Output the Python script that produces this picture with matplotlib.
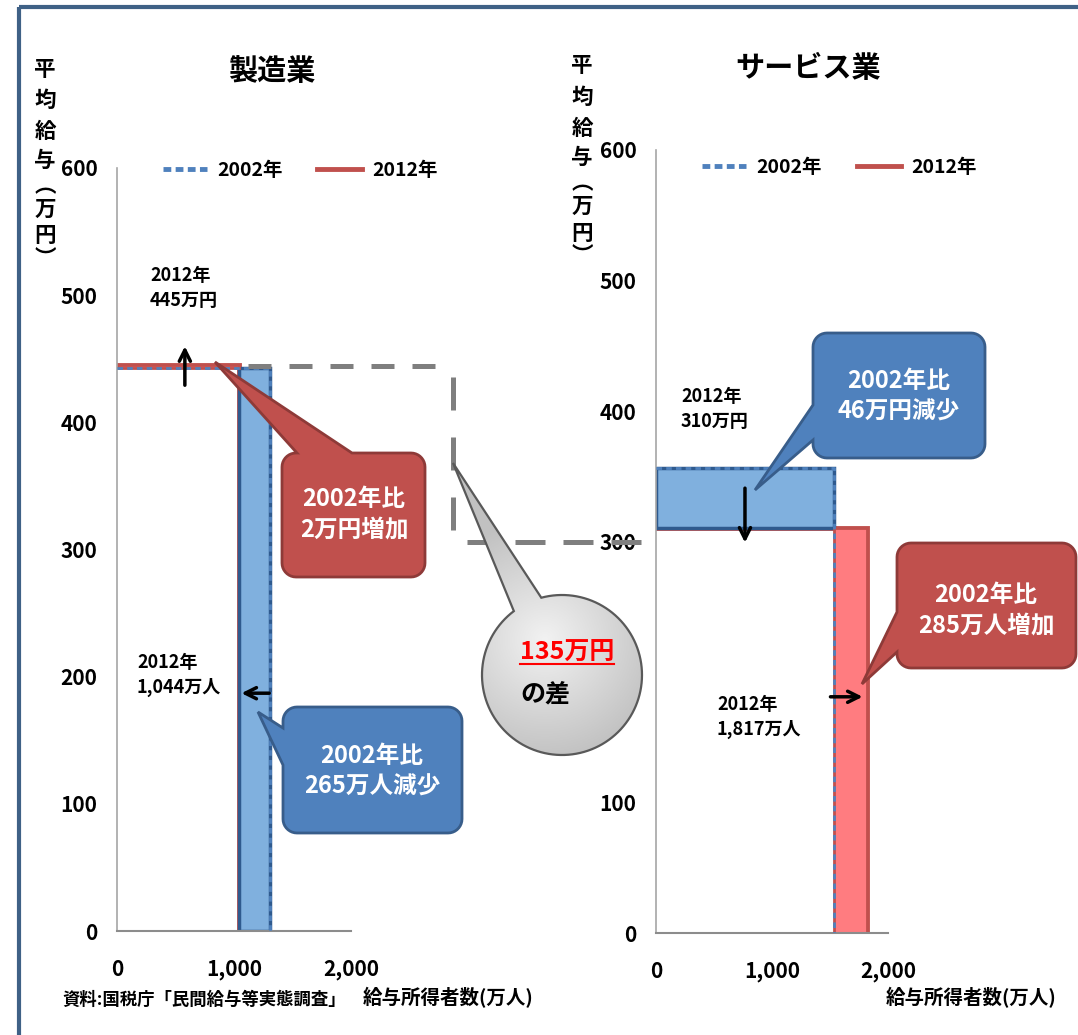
import numpy as np
import matplotlib.pyplot as plt
from matplotlib.patches import Rectangle, Polygon
from matplotlib.lines import Line2D

plt.rcParams['font.family'] = ['Noto Sans CJK JP', 'DejaVu Sans']
plt.rcParams['font.weight'] = 'bold'

W, H = 1078, 1035

# 業種別: 平均給与(万円) と 給与所得者数(万人)
industries   = ["製造業", "サービス業"]
wage_2002    = [443, 356]
wage_2012    = [445, 310]
workers_2002 = [1309, 1532]
workers_2012 = [1044, 1817]
x_ticks = [0, 1000, 2000]
y_ticks = [0, 100, 200, 300, 400, 500, 600]

BLUE      = "#4F81BD"
BLUE_FILL = "#80B0DE"
BLUE_EDGE = "#2F5A8E"
RED       = "#C0504D"
RED_EDGE  = "#8E3A38"
PINK      = "#FF7C80"
GRAY      = "#7F7F7F"

fig = plt.figure(figsize=(W / 100, H / 100), dpi=100)
fig.patch.set_facecolor("white")


def px_axes(l, t, r, b, **kw):
    return fig.add_axes([l / W, 1 - b / H, (r - l) / W, (b - t) / H], **kw)


axes = [px_axes(117, 168, 351, 931), px_axes(656, 150, 888, 933)]
legend_pos = [(0.782, 0.997), (0.789, 0.978)]

for i, ax in enumerate(axes):
    n02, n12 = workers_2002[i], workers_2012[i]
    v02, v12 = wage_2002[i], wage_2012[i]
    low = min(v02, v12)

    # 2002年だけの部分(青) / 2012年だけの部分(赤)
    if v02 > v12:
        ax.add_patch(Rectangle((0, v12), n02, v02 - v12, fc=BLUE_FILL,
                               ec=BLUE_EDGE, lw=2.5, zorder=2))
    if n02 > n12:
        ax.add_patch(Rectangle((n12, 0), n02 - n12, low, fc=BLUE_FILL,
                               ec=BLUE_EDGE, lw=2.5, zorder=2))
    if v12 > v02:
        ax.add_patch(Rectangle((0, v02), n12, v12 - v02, fc=PINK,
                               ec=RED, lw=2, zorder=2))
    if n12 > n02:
        ax.add_patch(Rectangle((n02, 0), n12 - n02, low, fc=PINK,
                               ec=RED, lw=2, zorder=2))

    ax.plot([0, n12, n12], [v12, v12, 0], color=RED, lw=3.5, zorder=1.5,
            solid_joinstyle="miter")
    ax.plot([0, n02, n02], [v02, v02, 0], color=BLUE, lw=2,
            ls=(0, (2, 1.5)), zorder=4)

    ax.set_xlim(0, 2000)
    ax.set_ylim(0, 600)
    ax.set_xticks(x_ticks, [f"{t:,}" for t in x_ticks])
    ax.set_yticks(y_ticks)
    ax.tick_params(length=0, labelsize=15)
    ax.tick_params(axis="y", pad=14)
    ax.tick_params(axis="x", pad=20)
    for s in ("top", "right"):
        ax.spines[s].set_visible(False)
    ax.spines["left"].set_color("#A6A6A6")
    ax.spines["bottom"].set_color("#8C8C8C")
    ax.spines["left"].set_linewidth(1.2)
    ax.spines["bottom"].set_linewidth(1.5)

    handles = [Line2D([], [], color=BLUE, lw=3.5, ls=(0, (1.6, 0.9))),
               Line2D([], [], color=RED, lw=3.5)]
    ax.legend(handles, ["2002年", "2012年"], ncol=2, loc="center",
              bbox_to_anchor=legend_pos[i], frameon=False, fontsize=14,
              handlelength=2.3, handletextpad=0.5, columnspacing=1.8)

# 注記用のピクセル座標レイヤー
ov = fig.add_axes([0, 0, 1, 1], zorder=10)
ov.set_xlim(0, W)
ov.set_ylim(H, 0)
ov.axis("off")
ov.patch.set_visible(False)

# 外枠
ov.plot([19, 19], [7, H], color="#3F6186", lw=3, solid_capstyle="butt")
ov.plot([19, W], [7, 7], color="#3F6186", lw=3, solid_capstyle="butt")

# タイトル
ov.text(272, 71, industries[0], fontsize=21, ha="center", va="center")
ov.text(808, 68, industries[1], fontsize=21, ha="center", va="center")

# 縦書きの軸ラベル
ylab = ["平", "均", "給", "与", "︵", "万", "円", "︶"]
ylab_y = [69, 100, 131, 160, 186, 209, 236, 259]
for x0, dy in ((45, 0), (582, -3)):
    for ch, y in zip(ylab, ylab_y):
        ov.text(x0, y + dy, ch, fontsize=15.5, ha="center", va="center")

# 横軸ラベルと出典
ov.text(448, 998, "給与所得者数(万人)", fontsize=14, ha="center", va="center")
ov.text(971, 998, "給与所得者数(万人)", fontsize=14, ha="center", va="center")
ov.text(62, 1000, "資料:国税庁「民間給与等実態調査」", fontsize=12.5,
        ha="left", va="center")

# 2012年の値
ov.text(150, 288, f"2012年\n{wage_2012[0]}万円", fontsize=13, ha="left",
        va="center", linespacing=1.45)
ov.text(137, 675, f"2012年\n{workers_2012[0]:,}万人", fontsize=13, ha="left",
        va="center", linespacing=1.45)
ov.text(681, 409, f"2012年\n{wage_2012[1]}万円", fontsize=13, ha="left",
        va="center", linespacing=1.45)
ov.text(717, 717, f"2012年\n{workers_2012[1]:,}万人", fontsize=13, ha="left",
        va="center", linespacing=1.45)

# 変化を示す矢印
arw = dict(arrowstyle="->", lw=2.5, color="black", mutation_scale=20)
axes[0].annotate("", xy=(580, 462), xytext=(580, 427), arrowprops=arw,
                 zorder=6)
axes[0].annotate("", xy=(1040, 187), xytext=(1325, 187), arrowprops=arw,
                 zorder=6)
axes[1].annotate("", xy=(767, 297), xytext=(767, 343), arrowprops=arw,
                 zorder=6)
axes[1].annotate("", xy=(1805, 181), xytext=(1480, 181), arrowprops=arw,
                 zorder=6)

# 給与差を示す灰色の破線
dash_kw = dict(color=GRAY, lw=3.6, solid_capstyle="butt", dash_capstyle="butt",
               zorder=3)
ov.plot([248, 442], [366, 366], dashes=(4.6, 3.6), **dash_kw)
ov.plot([453, 453], [377, 533], dashes=(6.6, 5.4), **dash_kw)
ov.plot([467, 656], [542, 542], dashes=(6.0, 3.6), **dash_kw)


def callout(x0, y0, x1, y1, side, a, b, tip, fc, ec, r=14):
    def arc(cx, cy, t0, t1):
        t = np.radians(np.linspace(t0, t1, 10))
        return list(zip(cx + r * np.cos(t), cy + r * np.sin(t)))

    pts = [(x0 + r, y0)]
    if side == "top":
        pts += [(a, y0), tip, (b, y0)]
    pts += arc(x1 - r, y0 + r, 270, 360)
    if side == "right":
        pts += [(x1, a), tip, (x1, b)]
    pts += arc(x1 - r, y1 - r, 0, 90)
    if side == "bottom":
        pts += [(b, y1), tip, (a, y1)]
    pts += arc(x0 + r, y1 - r, 90, 180)
    if side == "left":
        pts += [(x0, b), tip, (x0, a)]
    pts += arc(x0 + r, y0 + r, 180, 270)
    ov.add_patch(Polygon(pts, closed=True, fc=fc, ec=ec, lw=2, zorder=5))


def change_text(d, unit):
    return f"2002年比\n{abs(d)}{unit}{'増加' if d > 0 else '減少'}"


txt_kw = dict(fontsize=17, color="white", ha="center", va="center",
              linespacing=1.35, zorder=6)

callout(282, 453, 425, 577, "top", 297, 352, (215, 362), RED, RED_EDGE)
ov.text(354, 514, change_text(wage_2012[0] - wage_2002[0], "万円"), **txt_kw)

callout(283, 707, 462, 833, "left", 728, 765, (258, 712), BLUE, "#385D8A")
ov.text(372, 771, change_text(workers_2012[0] - workers_2002[0], "万人"),
        **txt_kw)

callout(813, 333, 985, 458, "left", 405, 440, (755, 490), BLUE, "#385D8A")
ov.text(899, 396, change_text(wage_2012[1] - wage_2002[1], "万円"), **txt_kw)

callout(897, 543, 1076, 668, "left", 612, 652, (862, 684), RED, RED_EDGE)
ov.text(986, 610, change_text(workers_2012[1] - workers_2002[1], "万人"),
        **txt_kw)

# 業種間の給与差(円形の吹き出し)
cx, cy, R = 562, 675, 80
ang = np.radians(np.linspace(-105, 233, 120))
bubble = list(zip(cx + R * np.cos(ang), cy + R * np.sin(ang))) + [(453, 463)]
bub = Polygon(bubble, closed=True, fc="none", ec="#595959", lw=1.6, zorder=5.2)
ov.add_patch(bub)
gx, gy = np.meshgrid(np.linspace(440, 650, 120), np.linspace(455, 760, 160))
dist = np.clip(np.hypot(gx - 545, gy - 640) / 120, 0, 1)
light, dark = np.array([0.95, 0.95, 0.95]), np.array([0.76, 0.76, 0.76])
grad = light + (dark - light) * dist[..., None]
img = ov.imshow(grad, extent=(440, 650, 760, 455), origin="upper",
                aspect="auto", zorder=5.1)
img.set_clip_path(bub)
ov.set_xlim(0, W)
ov.set_ylim(H, 0)

gap = wage_2012[0] - wage_2012[1]
t135 = ov.text(520, 653, f"{gap}万円", fontsize=18, color="#FF0000",
               ha="left", va="center", zorder=6)
ov.text(520, 695, "の差", fontsize=18, color="black", ha="left", va="center",
        zorder=6)
fig.canvas.draw()
bb = t135.get_window_extent().transformed(ov.transData.inverted())
ov.plot([bb.x0, bb.x1], [bb.y0 - 1, bb.y0 - 1], color="#FF0000", lw=1.5,
        zorder=6)

fig.savefig("out.png", dpi=100)
